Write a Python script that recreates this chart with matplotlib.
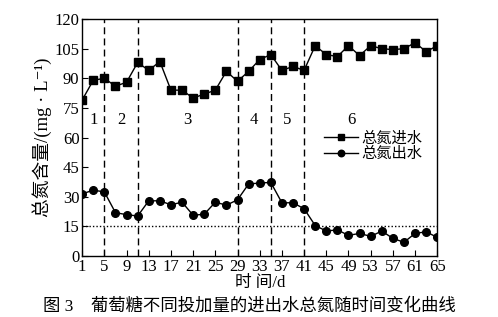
import matplotlib
matplotlib.use("Agg")
import matplotlib.pyplot as plt

plt.rcParams["font.family"] = ["Liberation Serif", "Noto Sans CJK SC", "DejaVu Serif"]

days = list(range(1, 66, 2))
influent = [79, 89, 90, 86, 88, 98, 94, 98.5, 84, 84, 80, 82, 84, 93.5, 88.5,
            93.5, 99.5, 102, 94, 96, 94, 106.5, 102, 101, 106.5, 101.5, 106.5,
            105, 104.5, 105, 108, 103.5, 106.5]
effluent = [31.5, 33.4, 32.5, 22, 21, 20.3, 28, 28, 26, 27.3, 20.7, 21.2, 27.3,
            25.8, 28.5, 36.5, 37, 37.3, 27, 27, 24, 15.5, 12.7, 13.3, 10.5, 11.5,
            10, 12.7, 9, 7, 11.5, 12.3, 9.5]
stage_bounds = [5, 11, 29, 35, 41]
stage_labels = ["1", "2", "3", "4", "5", "6"]
stage_label_x = [3, 8, 20, 32, 38, 49.5]
limit = 15

fig = plt.figure(figsize=(4.98, 3.17), dpi=100)
ax = fig.add_axes([0.165, 0.192, 0.713, 0.748])

ax.plot(days, influent, "-s", color="black", lw=1, ms=5.5, label="总氮进水")
ax.plot(days, effluent, "-o", color="black", lw=1, ms=5.5, label="总氮出水")

for b in stage_bounds:
    ax.axvline(b, color="black", ls=(0, (5, 3)), lw=1)
ax.axhline(limit, color="black", ls=(0, (1, 1.5)), lw=1)

for lx, lab in zip(stage_label_x, stage_labels):
    ax.text(lx, 69, lab, ha="center", va="center", fontsize=12)

ax.set_xlim(1, 65)
ax.set_ylim(0, 120)
ax.set_xticks(range(1, 66, 4))
ax.set_yticks(range(0, 121, 15))
ax.tick_params(direction="in", labelsize=12, length=4, pad=2)
for s in ax.spines.values():
    s.set_linewidth(1)

ax.set_xlabel("时 间/d", fontsize=12, labelpad=0)
ax.set_ylabel("总氮含量/(mg · L⁻¹)", fontsize=13.5, labelpad=2)

ax.legend(loc="upper left", bbox_to_anchor=(0.66, 0.56), frameon=False,
          fontsize=11, handlelength=2.2, handletextpad=0.2, labelspacing=0.1,
          borderpad=0, markerscale=0.85)

fig.text(0.5, 0.035, "图 3    葡萄糖不同投加量的进出水总氮随时间变化曲线",
         ha="center", va="center", fontsize=12.5)

fig.savefig("out.png", dpi=100)
